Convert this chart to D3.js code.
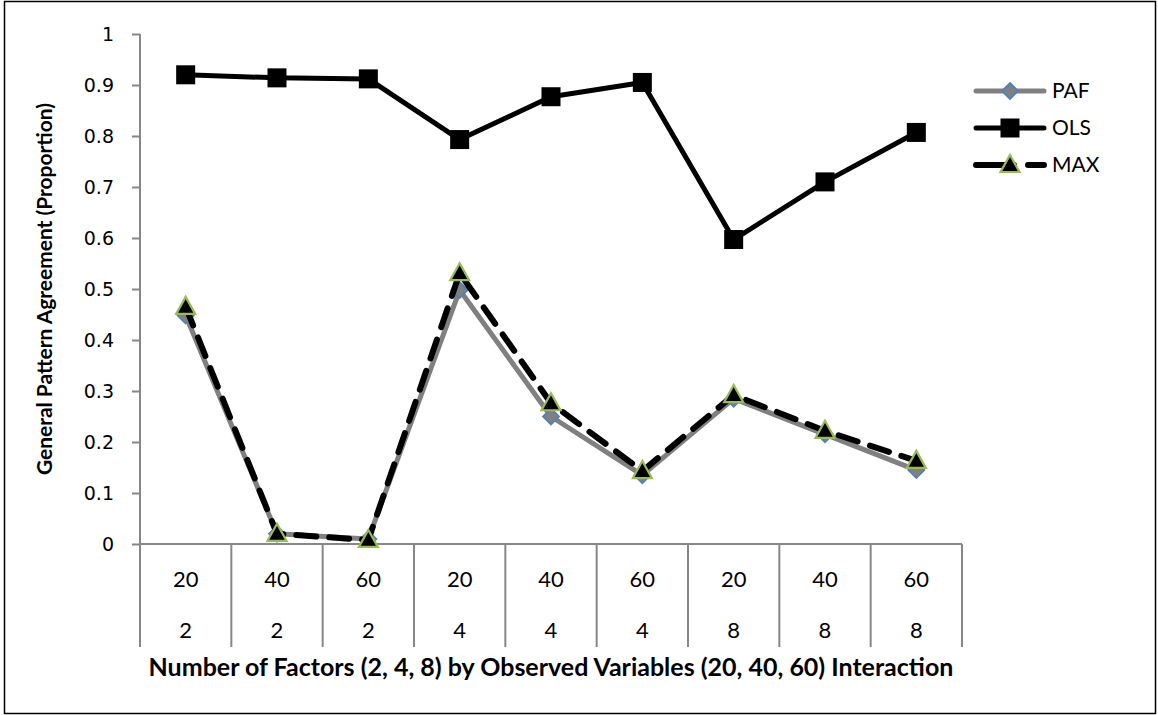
<!DOCTYPE html>
<html>
<head>
<meta charset="utf-8">
<script src="https://cdn.jsdelivr.net/npm/d3@7"></script>
<style>
  html, body { margin: 0; padding: 0; background: #fff; }
  svg { display: block; }
</style>
</head>
<body>
<svg id="chart" width="1158" height="715"></svg>
<script>
// ---- data ----
const variables = ["20", "40", "60", "20", "40", "60", "20", "40", "60"];
const factors   = ["2", "2", "2", "4", "4", "4", "8", "8", "8"];
const seriesNames = ["PAF", "OLS", "MAX"];
const pafValues = [0.448, 0.020, 0.010, 0.498, 0.250, 0.135, 0.285, 0.215, 0.145];
const olsValues = [0.920, 0.914, 0.912, 0.793, 0.877, 0.905, 0.597, 0.710, 0.807];
const maxValues = [0.465, 0.020, 0.008, 0.531, 0.276, 0.143, 0.292, 0.222, 0.163];
const yTicks = [0, 0.1, 0.2, 0.3, 0.4, 0.5, 0.6, 0.7, 0.8, 0.9, 1];
const yTitle = "General Pattern Agreement (Proportion)";
const xTitle = "Number of Factors (2, 4, 8) by Observed Variables (20, 40, 60) Interaction";

(function () {
const svg = d3.select("#chart");
const W = 1158, H = 715;

// frame
svg.append("rect").attr("x", 4.5).attr("y", 1.5).attr("width", W - 7).attr("height", H - 3)
  .attr("fill", "#fff").attr("stroke", "#000").attr("stroke-width", 1.5);

const pLeft = 140, pRight = 962, pTop = 34, pBottom = 544, catBottom = 647;
const idx = d3.range(variables.length);
const x = d3.scaleBand().domain(idx).range([pLeft, pRight]).padding(0);
const y = d3.scaleLinear().domain([0, 1]).range([pBottom, pTop]);
const cx = i => x(i) + x.bandwidth() / 2;

const axisColor = "#878787";
const labelFont = "Lato, 'Open Sans', sans-serif";

// y axis
const yAxis = d3.axisLeft(y).tickValues(yTicks).tickSize(8).tickPadding(18)
  .tickFormat(d => d3.format("~g")(d));
const gy = svg.append("g").attr("transform", `translate(${pLeft},0)`).call(yAxis);
gy.select(".domain").remove();
gy.selectAll(".tick line").attr("stroke", axisColor).attr("stroke-width", 2);
gy.selectAll(".tick text").attr("font-family", "'DejaVu Sans', sans-serif")
  .attr("font-size", 19).attr("fill", "#000");
svg.append("line").attr("x1", pLeft).attr("x2", pLeft).attr("y1", pTop).attr("y2", catBottom)
  .attr("stroke", axisColor).attr("stroke-width", 2);

// x axis line and category separators
svg.append("line").attr("x1", pLeft).attr("x2", pRight).attr("y1", pBottom).attr("y2", pBottom)
  .attr("stroke", axisColor).attr("stroke-width", 2);
const edges = idx.map(i => x(i)).concat([pRight]);
svg.append("g").selectAll("line").data(edges).join("line")
  .attr("x1", d => d).attr("x2", d => d).attr("y1", pBottom).attr("y2", catBottom)
  .attr("stroke", axisColor).attr("stroke-width", 2);

// category labels
svg.append("g").selectAll("text").data(idx).join("text")
  .attr("x", i => cx(i)).attr("y", 587).attr("text-anchor", "middle")
  .attr("font-family", labelFont).attr("font-size", 22).attr("fill", "#000")
  .text(i => variables[i]);
svg.append("g").selectAll("text").data(idx).join("text")
  .attr("x", i => cx(i)).attr("y", 638).attr("text-anchor", "middle")
  .attr("font-family", labelFont).attr("font-size", 22).attr("fill", "#000")
  .text(i => factors[i]);

// titles
function fitText(sel, target) {
  const len = sel.node().getComputedTextLength();
  const fs = parseFloat(sel.attr("font-size"));
  if (len > 0) sel.attr("font-size", (fs * target / len).toFixed(2));
}
const xt = svg.append("text").attr("x", (pLeft + pRight) / 2).attr("y", 676)
  .attr("text-anchor", "middle").attr("font-family", labelFont).attr("font-weight", "bold")
  .attr("font-size", 22).attr("fill", "#000").text(xTitle);
fitText(xt, 805);
const yt = svg.append("text").attr("transform", `translate(52,${(pTop + pBottom) / 2}) rotate(-90)`)
  .attr("text-anchor", "middle").attr("font-family", labelFont).attr("font-weight", "bold")
  .attr("font-size", 22).attr("fill", "#000").text(yTitle);
fitText(yt, 372);

// series styles
const styles = {
  PAF: { values: pafValues, stroke: "#808080", width: 5, dash: null, marker: "diamond" },
  OLS: { values: olsValues, stroke: "#000000", width: 5, dash: null, marker: "square" },
  MAX: { values: maxValues, stroke: "#000000", width: 6, dash: "20,13", marker: "triangle" }
};
const line = d3.line().x((d, i) => cx(i)).y(d => y(d));

function drawMarker(g, type, px, py) {
  if (type === "diamond") {
    g.append("path").attr("d", `M${px},${py - 8}L${px + 8},${py}L${px},${py + 8}L${px - 8},${py}Z`)
      .attr("fill", "#808080").attr("stroke", "#4F81BD").attr("stroke-width", 1.8);
  } else if (type === "square") {
    g.append("rect").attr("x", px - 9.5).attr("y", py - 9.5).attr("width", 19).attr("height", 19)
      .attr("fill", "#000");
  } else {
    g.append("path").attr("d", `M${px},${py - 10}L${px + 9.5},${py + 7}L${px - 9.5},${py + 7}Z`)
      .attr("fill", "#000").attr("stroke", "#9BBB59").attr("stroke-width", 2.2)
      .attr("stroke-linejoin", "miter");
  }
}

seriesNames.forEach(name => {
  const s = styles[name];
  const g = svg.append("g");
  g.append("path").datum(s.values).attr("d", line).attr("fill", "none")
    .attr("stroke", s.stroke).attr("stroke-width", s.width)
    .attr("stroke-linejoin", "round").attr("stroke-linecap", "round")
    .attr("stroke-dasharray", s.dash);
  s.values.forEach((v, i) => drawMarker(g, s.marker, cx(i), y(v)));
});

// legend
const legendY = { PAF: 91, OLS: 128, MAX: 165 };
seriesNames.forEach(name => {
  const s = styles[name];
  const g = svg.append("g");
  const ly = legendY[name];
  g.append("line").attr("x1", 976).attr("x2", 1044).attr("y1", ly).attr("y2", ly)
    .attr("stroke", s.stroke).attr("stroke-width", s.width)
    .attr("stroke-linecap", "round").attr("stroke-dasharray", s.dash ? "38,14" : null);
  drawMarker(g, s.marker, 1010, ly);
  g.append("text").attr("x", 1052).attr("y", ly + 7).attr("font-family", labelFont)
    .attr("font-size", 21).attr("fill", "#000").text(name);
});
})();
</script>
</body>
</html>
